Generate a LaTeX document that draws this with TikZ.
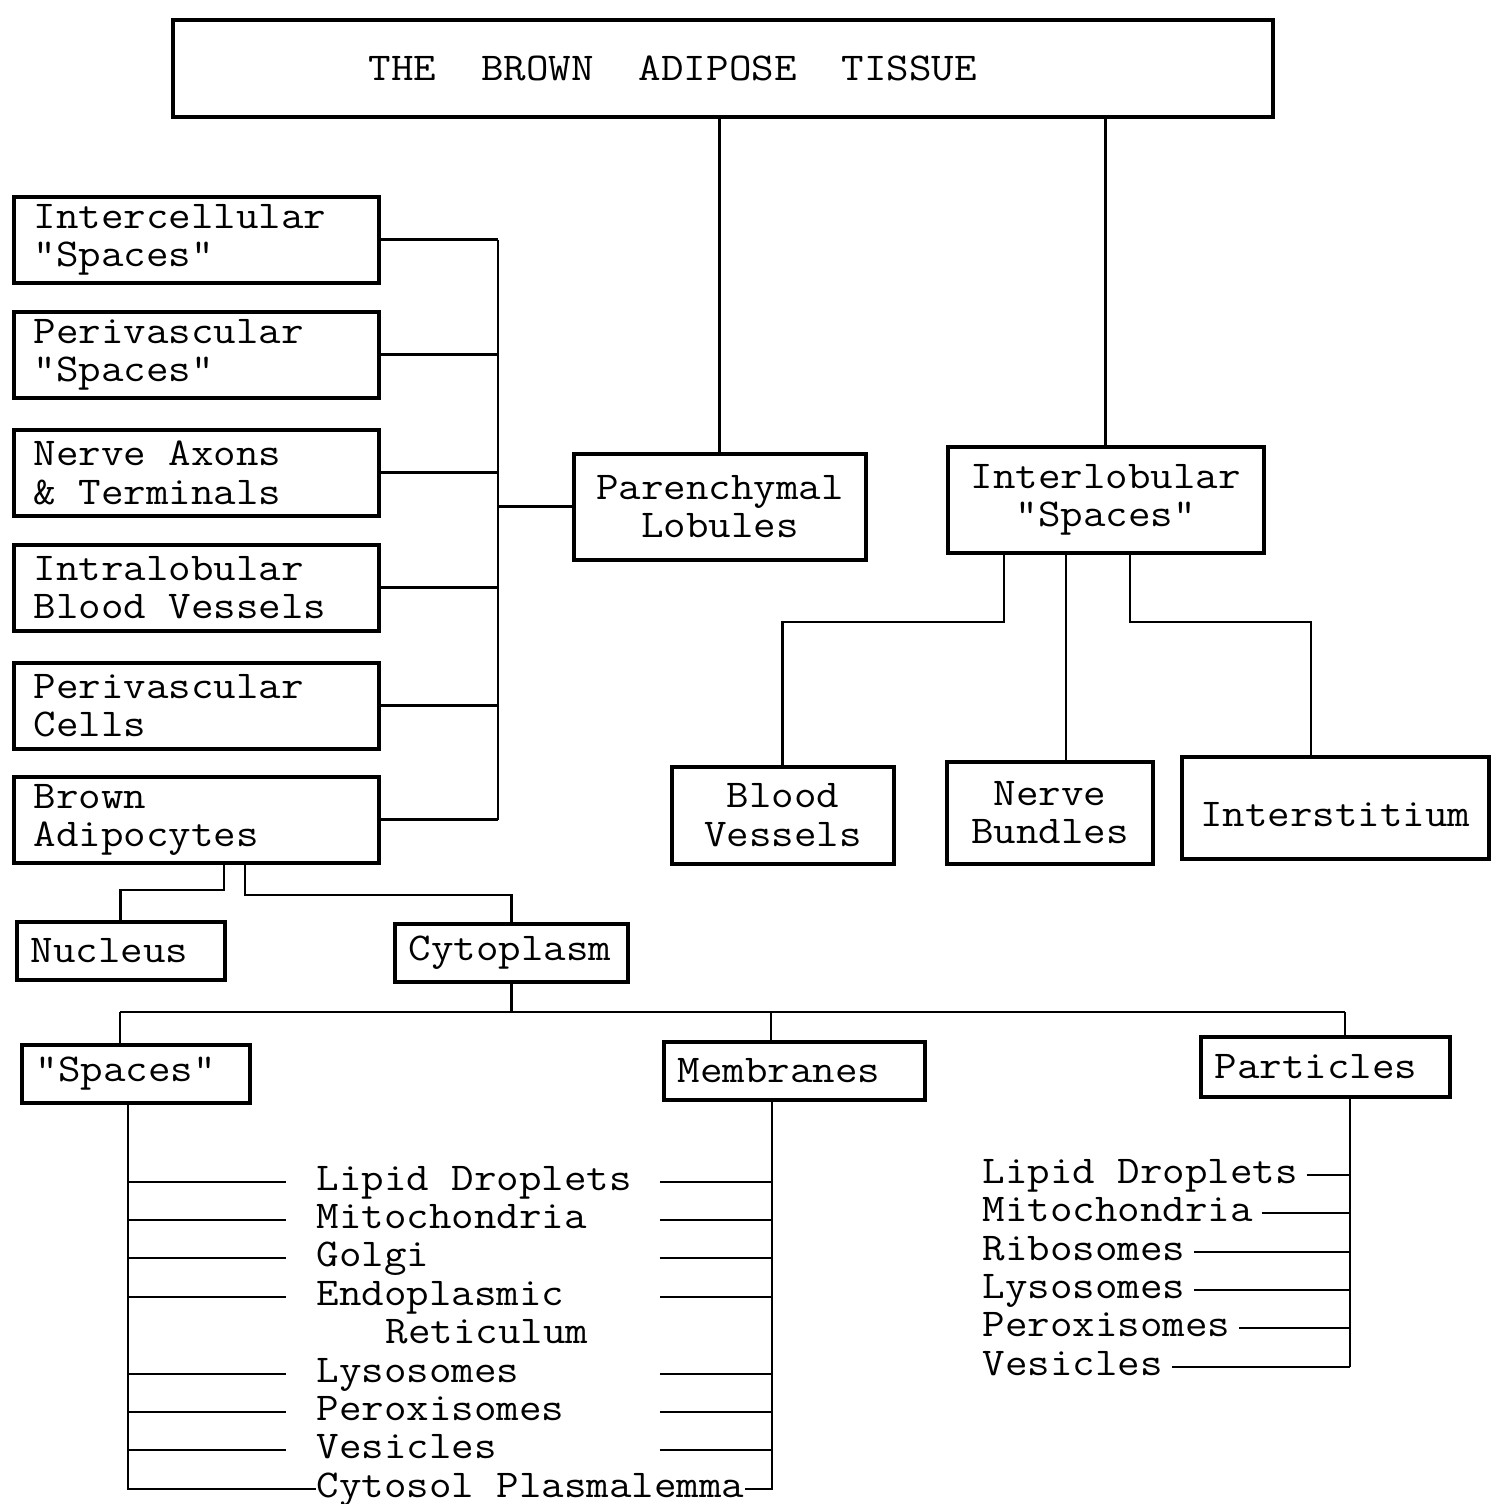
\documentclass[tikz,border=0pt]{standalone}
\usepackage{fontspec}
\setmonofont[FakeStretch=1.11]{Latin Modern Mono}
\usetikzlibrary{positioning,calc}
\newcommand{\typefont}{\fontsize{11.2pt}{10.95pt}\selectfont\ttfamily}
\tikzset{
  tissuebox/.style={
    rectangle, draw, line width=1.1pt, anchor=north west,
    font=\typefont, inner sep=0pt
  },
  leftbox/.style={
    rectangle, draw, line width=1pt, anchor=north west,
    font=\typefont, align=flush left, text width=3.25cm,
    inner xsep=0.2cm, inner ysep=0pt, minimum height=0.86cm
  },
  midbox/.style={
    rectangle, draw, line width=1pt, anchor=north west,
    font=\typefont, align=center, inner sep=0pt
  },
  smallbox/.style={
    rectangle, draw, line width=1pt, anchor=north west,
    font=\typefont, align=flush left, inner xsep=0.14cm, inner ysep=0pt,
    minimum height=0.58cm
  },
  itemlabel/.style={
    font=\typefont, anchor=west, inner sep=0pt,
    text height=1.4ex, text depth=0.3ex
  },
  link/.style={line width=0.8pt}
}

\begin{document}
\begin{tikzpicture}[x=0.01cm, y=-0.01cm]
  \useasboundingbox (0,0) rectangle (1496,1504);

  % Tissue
  \node[tissuebox, minimum width=10.99cm, minimum height=0.97cm] (tissue) at (171,18)
    {THE~~BROWN~~ADIPOSE~~TISSUE\hspace*{1cm}};

  % Lobules and interlobular spaces
  \node[midbox, minimum width=2.92cm, minimum height=1.06cm] (paren) at (572,452) {Parenchymal\\Lobules};
  \node[midbox, minimum width=3.16cm, minimum height=1.06cm] (interlob) at (946,445) {Interlobular\\"Spaces"};
  \draw[link] (tissue.south -| paren.north) -- (paren.north);
  \draw[link] (tissue.south -| interlob.north) -- (interlob.north);

  % Lobule components
  \node[leftbox] (icspace)  at (12,195) {Intercellular\\"Spaces"};
  \node[leftbox] (pvspace)  at (12,310) {Perivascular\\"Spaces"};
  \node[leftbox] (axons)    at (12,428) {Nerve Axons\\\& Terminals};
  \node[leftbox] (ilvessel) at (12,543) {Intralobular\\Blood Vessels};
  \node[leftbox] (pvcells)  at (12,661) {Perivascular\\Cells};
  \node[leftbox] (brown)    at (12,775) {Brown\\Adipocytes};

  \coordinate (lobbus) at (498,0);
  \foreach \n in {icspace,pvspace,axons,ilvessel,pvcells,brown}
    \draw[link] (\n.east) -- (\n.east -| lobbus);
  \draw[link] (icspace.east -| lobbus) -- (brown.east -| lobbus);
  \draw[link] (paren.west -| lobbus) -- (paren.west);

  % Interlobular components
  \node[midbox, minimum width=2.22cm, minimum height=0.97cm] (bvessel) at (670,765) {Blood\\Vessels};
  \node[midbox, minimum width=2.06cm, minimum height=1.02cm] (nbundle) at (945,760) {Nerve\\Bundles};
  \node[midbox, minimum width=3.07cm, minimum height=1.02cm] (interst) at (1180,755) {\mbox{}\\Interstitium};

  \coordinate (bvknee) at (1004,622);
  \coordinate (nbdrop) at (1066,0);
  \coordinate (isknee) at (1130,622);
  \coordinate (isdrop) at (1311,622);
  \draw[link] (interlob.south -| bvknee) -- (bvknee) -| (bvessel.north);
  \draw[link] (interlob.south -| nbdrop) -- (nbundle.north -| nbdrop);
  \draw[link] (interlob.south -| isknee) -- (isknee) -- (isdrop) -- (interst.north -| isdrop);

  % Brown adipocyte components
  \node[smallbox, text width=1.80cm] (nucleus) at (15,920) {Nucleus};
  \node[smallbox, text width=2.05cm] (cyto) at (393,922) {Cytoplasm};
  \coordinate (nuknee) at (224,890);
  \coordinate (cyknee) at (245,895);
  \draw[link] (brown.south -| nuknee) -- (nuknee) -| (nucleus.north);
  \draw[link] (brown.south -| cyknee) -- (cyknee) -| (cyto.north);

  % Cytoplasm components
  \node[smallbox, text width=2.0cm] (spaces) at (20,1043) {"Spaces"};
  \node[smallbox, text width=2.33cm] (membr) at (662,1040) {Membranes};
  \node[smallbox, text width=2.21cm, minimum height=0.6cm] (partic) at (1199,1035) {Particles};
  \coordinate (cybusL) at (120,1012);
  \coordinate (cybusM) at (771,1012);
  \coordinate (cybusR) at (1345,1012);
  \draw[link] (cyto.south) -- (cyto.south |- cybusL);
  \draw[link] (cybusL) -- (cybusR);
  \draw[link] (cybusL) -- (spaces.north -| cybusL);
  \draw[link] (cybusM) -- (membr.north -| cybusM);
  \draw[link] (cybusR) -- (partic.north -| cybusR);

  % Spaces and membranes
  \node[itemlabel] (lipid)   at (316,1182) {Lipid Droplets};
  \node[itemlabel] (mito)    at (316,1220) {Mitochondria};
  \node[itemlabel] (golgi)   at (316,1258) {Golgi};
  \node[itemlabel] (endo)    at (316,1297) {Endoplasmic};
  \node[itemlabel] (retic)   at (385,1335) {Reticulum};
  \node[itemlabel] (lyso)    at (316,1374) {Lysosomes};
  \node[itemlabel] (perox)   at (316,1412) {Peroxisomes};
  \node[itemlabel] (vesic)   at (316,1450) {Vesicles};
  \node[itemlabel] (cytosol) at (316,1489) {Cytosol Plasmalemma};

  \coordinate (spbus) at (128,0);
  \coordinate (mbbus) at (772,0);
  \coordinate (mbtick) at (660,0);
  \draw[link] (spaces.south -| spbus) -- (cytosol.west -| spbus) -- (cytosol.west);
  \draw[link] (membr.south -| mbbus) -- (cytosol.east -| mbbus) -- (cytosol.east);
  \foreach \r in {lipid,mito,golgi,endo,lyso,perox,vesic} {
    \draw[link] (\r.west -| spbus) -- ([xshift=-0.3cm]\r.west);
    \draw[link] (\r.west -| mbtick) -- (\r.west -| mbbus);
  }

  % Particles
  \node[itemlabel] (plipid) at (982,1175) {Lipid Droplets};
  \node[itemlabel] (pmito)  at (982,1213) {Mitochondria};
  \node[itemlabel] (pribo)  at (982,1252) {Ribosomes};
  \node[itemlabel] (plyso)  at (982,1290) {Lysosomes};
  \node[itemlabel] (pperox) at (982,1328) {Peroxisomes};
  \node[itemlabel] (pvesic) at (982,1367) {Vesicles};
  \coordinate (ptbus) at (1350,0);
  \draw[link] (partic.south -| ptbus) -- (pvesic.east -| ptbus);
  \foreach \r in {plipid,pmito,pribo,plyso,pperox,pvesic}
    \draw[link, shorten <=0.08cm] (\r.east) -- (\r.east -| ptbus);
\end{tikzpicture}
\end{document}
